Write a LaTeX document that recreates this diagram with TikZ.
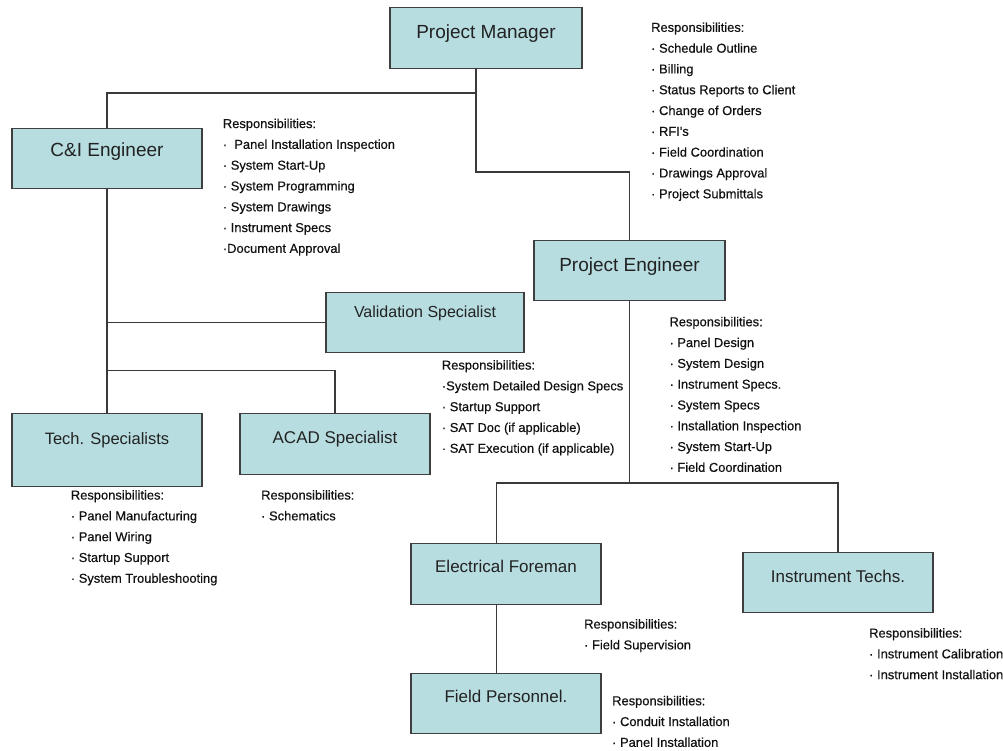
\documentclass[tikz,border=0pt]{standalone}
\usepackage{fontspec}
\setmainfont{Liberation Sans}
\newfontfamily\respfont[FakeBold=0.4]{Liberation Sans}
\definecolor{boxfill}{HTML}{B7DDE0}
\definecolor{boxline}{HTML}{3F3F3F}
\definecolor{wirecol}{HTML}{3A3A3A}
\definecolor{ink}{HTML}{222222}
\definecolor{respink}{HTML}{111111}
\tikzset{
  orgbox/.style={draw=boxline, fill=boxfill, line width=1.3pt, inner xsep=0pt, inner ysep=0pt, anchor=north, align=center, text=ink},
  bigtitle/.style={font=\fontsize{19}{22}\selectfont},
  smalltitle/.style={font=\fontsize{17}{20}\selectfont},
  resp/.style={anchor=north west, inner sep=0pt, align=left, text=respink, font=\respfont\fontsize{12.9}{20.8}\selectfont},
  wire/.style={draw=wirecol, line width=1.2pt},
}
\begin{document}
\begin{tikzpicture}[x=1pt,y=-1pt]
\useasboundingbox (0,0) rectangle (1003,750);
\fill[white] (0,0) rectangle (1003,750);

% boxes
\node[orgbox, bigtitle, minimum width=192pt, text height=30.7pt, text depth=30.3pt] (pm) at (486,7) {Project Manager};
\node[orgbox, bigtitle, minimum width=190pt, text height=27.7pt, text depth=32.3pt] (ci) at (107,128) {C\&I Engineer};
\node[orgbox, bigtitle, minimum width=191pt, text height=30.7pt, text depth=29.3pt] (pe) at (629.5,240) {Project Engineer};
\node[orgbox, smalltitle, font=\fontsize{16}{19}\selectfont, minimum width=198pt, text height=24.8pt, text depth=35.2pt] (val) at (425,292) {Validation Specialist};
\node[orgbox, smalltitle, font=\fontsize{16.5}{19}\selectfont, minimum width=190pt, text height=31pt, text depth=42pt] (tech) at (107,413) {Tech. Specialists};
\node[orgbox, smalltitle, minimum width=190pt, text height=30pt, text depth=31pt] (acad) at (335,413) {ACAD Specialist};
\node[orgbox, smalltitle, minimum width=190pt, text height=29pt, text depth=32pt] (ef) at (506,543) {Electrical Foreman};
\node[orgbox, smalltitle, minimum width=190pt, text height=29pt, text depth=31pt] (fp) at (506,673) {Field Personnel.};
\node[orgbox, smalltitle, minimum width=190pt, text height=30pt, text depth=30pt] (it) at (838,552) {Instrument Techs.};

% connectors
\coordinate (pmd) at (476,68);
\coordinate (pmj) at (476,93);
\coordinate (pej) at (476,172);
\draw[wire] (pmd) -- (pej) -| (pe.north);
\draw[wire] (pmj) -| (ci.north);
\draw[wire] (ci.south) -- (tech.north);
\draw[wire] (val.west) -- (val.west -| ci.south);
\coordinate (tj) at (107,370.5);
\draw[wire] (tj) -| (acad.north);
\coordinate (ej) at (629.5,483);
\coordinate (efu) at (496.5,543);
\coordinate (efd) at (496.5,604);
\coordinate (fpu) at (496.5,673);
\draw[wire] (pe.south) -- (ej);
\draw[wire] (efu) |- (it.north |- ej) -- (it.north);
\draw[wire] (efd) -- (fpu);

% responsibilities
\node[resp] (pmr) at (651,22.3) {Responsibilities:\\· Schedule Outline\\· Billing\\· Status Reports to Client\\· Change of Orders\\· RFI's\\· Field Coordination\\· Drawings Approval\\· Project Submittals};
\node[resp] (cir) at (222.7,118.5) {Responsibilities:\\·\ \ Panel Installation Inspection\\· System Start-Up\\· System Programming\\· System Drawings\\· Instrument Specs\\·Document Approval};
\node[resp] (valr) at (441.7,360) {Responsibilities:\\·System Detailed Design Specs\\· Startup Support\\· SAT Doc (if applicable)\\· SAT Execution (if applicable)};
\node[resp] (per) at (669.3,316.7) {Responsibilities:\\· Panel Design\\· System Design\\· Instrument Specs.\\· System Specs\\· Installation Inspection\\· System Start-Up\\· Field Coordination};
\node[resp] (techr) at (70.7,490) {Responsibilities:\\· Panel Manufacturing\\· Panel Wiring\\· Startup Support\\· System Troubleshooting};
\node[resp] (acadr) at (261,490) {Responsibilities:\\· Schematics};
\node[resp] (efr) at (584,619) {Responsibilities:\\· Field Supervision};
\node[resp] (fpr) at (612,695.7) {Responsibilities:\\· Conduit Installation\\· Panel Installation};
\node[resp] (itr) at (869,628) {Responsibilities:\\· Instrument Calibration\\· Instrument Installation};
\end{tikzpicture}
\end{document}
